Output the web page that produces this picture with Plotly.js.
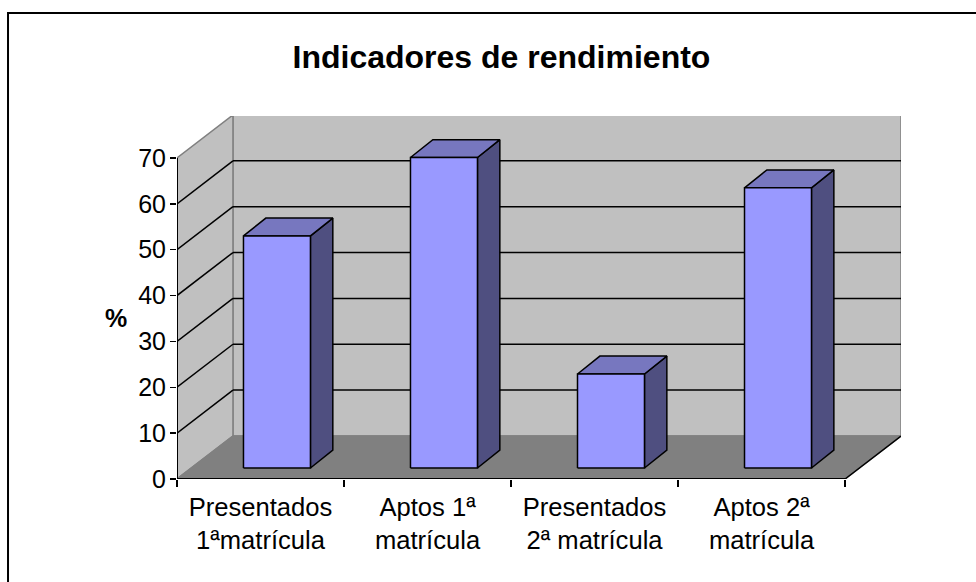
<!DOCTYPE html>
<html><head><meta charset="utf-8">
<script src="https://cdn.plot.ly/plotly-3.0.1.min.js"></script>
<style>html,body{margin:0;padding:0;background:#fff}#c{width:976px;height:582px}</style>
</head><body><div id="c"></div>
<script>
const categories = ["Presentados<br>1ªmatrícula","Aptos 1ª<br>matrícula","Presentados<br>2ª matrícula","Aptos 2ª<br>matrícula"];
const values = [50.6, 67.7, 20.5, 61.1];
const yTicks = [0,10,20,30,40,50,60,70];
const catCount = categories.length;
// oblique projection, in axis units
const wallDx = 0.335, wallDy = 9.38;
const barDx = 0.134, barDy = 3.9;
const barStart = 0.398, barWidth = 0.401, barBase = 2.4;
const colFront="#9999FF", colTop="#7777BF", colSide="#4F4F80";
const FONT="Liberation Sans, Arial, sans-serif";
const traces=[];
function poly(x,y,fill,line,w){traces.push({type:"scatter",mode:"lines",x,y,fill:"toself",fillcolor:fill,line:{color:line,width:w===undefined?1.5:w},hoverinfo:"skip",showlegend:false,cliponaxis:false});}
function seg(x,y,color,w){traces.push({type:"scatter",mode:"lines",x,y,line:{color,width:w||1.5},hoverinfo:"skip",showlegend:false,cliponaxis:false});}
const yMax=yTicks[yTicks.length-1], xEnd=catCount+wallDx;
// walls and floor
poly([wallDx,xEnd,xEnd,wallDx,wallDx],[wallDy,wallDy,yMax+wallDy,yMax+wallDy,wallDy],"#C0C0C0","#808080");
poly([0,wallDx,wallDx,0,0],[0,wallDy,yMax+wallDy,yMax,0],"#C0C0C0","#808080");
poly([0,catCount,xEnd,wallDx,0],[0,0,wallDy,wallDy,0],"#808080","#808080");
// gridlines
yTicks.slice(1,-1).forEach(v=>{
  seg([0,wallDx],[v,v+wallDy],"#000");
  seg([wallDx,xEnd],[v+wallDy,v+wallDy],"#000");
});
seg([catCount,xEnd],[0,wallDy],"#000");
seg([0,0],[0,yMax],"#000",2);
seg([0,catCount],[0,0],"#000",2);
// bars
values.forEach((v,i)=>{
  const a=i+barStart,b=a+barWidth,y0=barBase,y1=barBase+v;
  poly([b,b+barDx,b+barDx,b,b],[y0,y0+barDy,y1+barDy,y1,y0],colSide,"#000");
  poly([a,b,b+barDx,a+barDx,a],[y1,y1,y1+barDy,y1+barDy,y1],colTop,"#000");
  poly([a,b,b,a,a],[y0,y0,y1,y1,y0],colFront,"#000");
});
traces.push({type:"scatter",mode:"none",x:[0],y:[0],xaxis:"x2",hoverinfo:"skip",showlegend:false});
const centers=categories.map((c,i)=>i+0.5), bounds=[...Array(catCount+1).keys()];
const layout={
  width:976,height:582,margin:{l:177,r:75,t:116,b:103},
  paper_bgcolor:"#fff",plot_bgcolor:"rgba(0,0,0,0)",showlegend:false,
  font:{family:FONT,color:"#000",size:25.6},
  title:{text:"<b>Indicadores de rendimiento</b>",font:{family:FONT,size:32,color:"#000"},x:0.5138,xanchor:"center",y:0.902,yanchor:"middle"},
  xaxis:{range:[0,xEnd],tickmode:"array",tickvals:centers,ticktext:categories,ticks:"",ticklabelstandoff:10,showgrid:false,zeroline:false,showline:false,tickfont:{size:25.6},automargin:false},
  xaxis2:{range:[0,xEnd],overlaying:"x",tickmode:"array",tickvals:bounds,ticktext:bounds.map(()=>""),ticks:"outside",ticklen:7,tickwidth:1.5,tickcolor:"#000",showgrid:false,zeroline:false,showline:false,side:"bottom"},
  yaxis:{range:[0,(479-116)/4.586],tickmode:"array",tickvals:yTicks,ticks:"outside",ticklen:6,tickwidth:1.5,tickcolor:"#000",ticklabelstandoff:-1,showgrid:false,zeroline:false,showline:false,tickfont:{size:25},automargin:false},
  annotations:[{text:"<b>%</b>",xref:"paper",yref:"paper",x:-0.0843,y:0.4435,xanchor:"center",yanchor:"middle",showarrow:false,font:{size:25}}],
  shapes:[{type:"path",xref:"paper",yref:"paper",layer:"below",path:"M -0.2334 -0.2837 L -0.2334 1.2837 L 1.1036 1.2837",line:{color:"#000",width:2}}]
};
Plotly.newPlot("c",traces,layout,{displayModeBar:false,staticPlot:true});
</script></body></html>
